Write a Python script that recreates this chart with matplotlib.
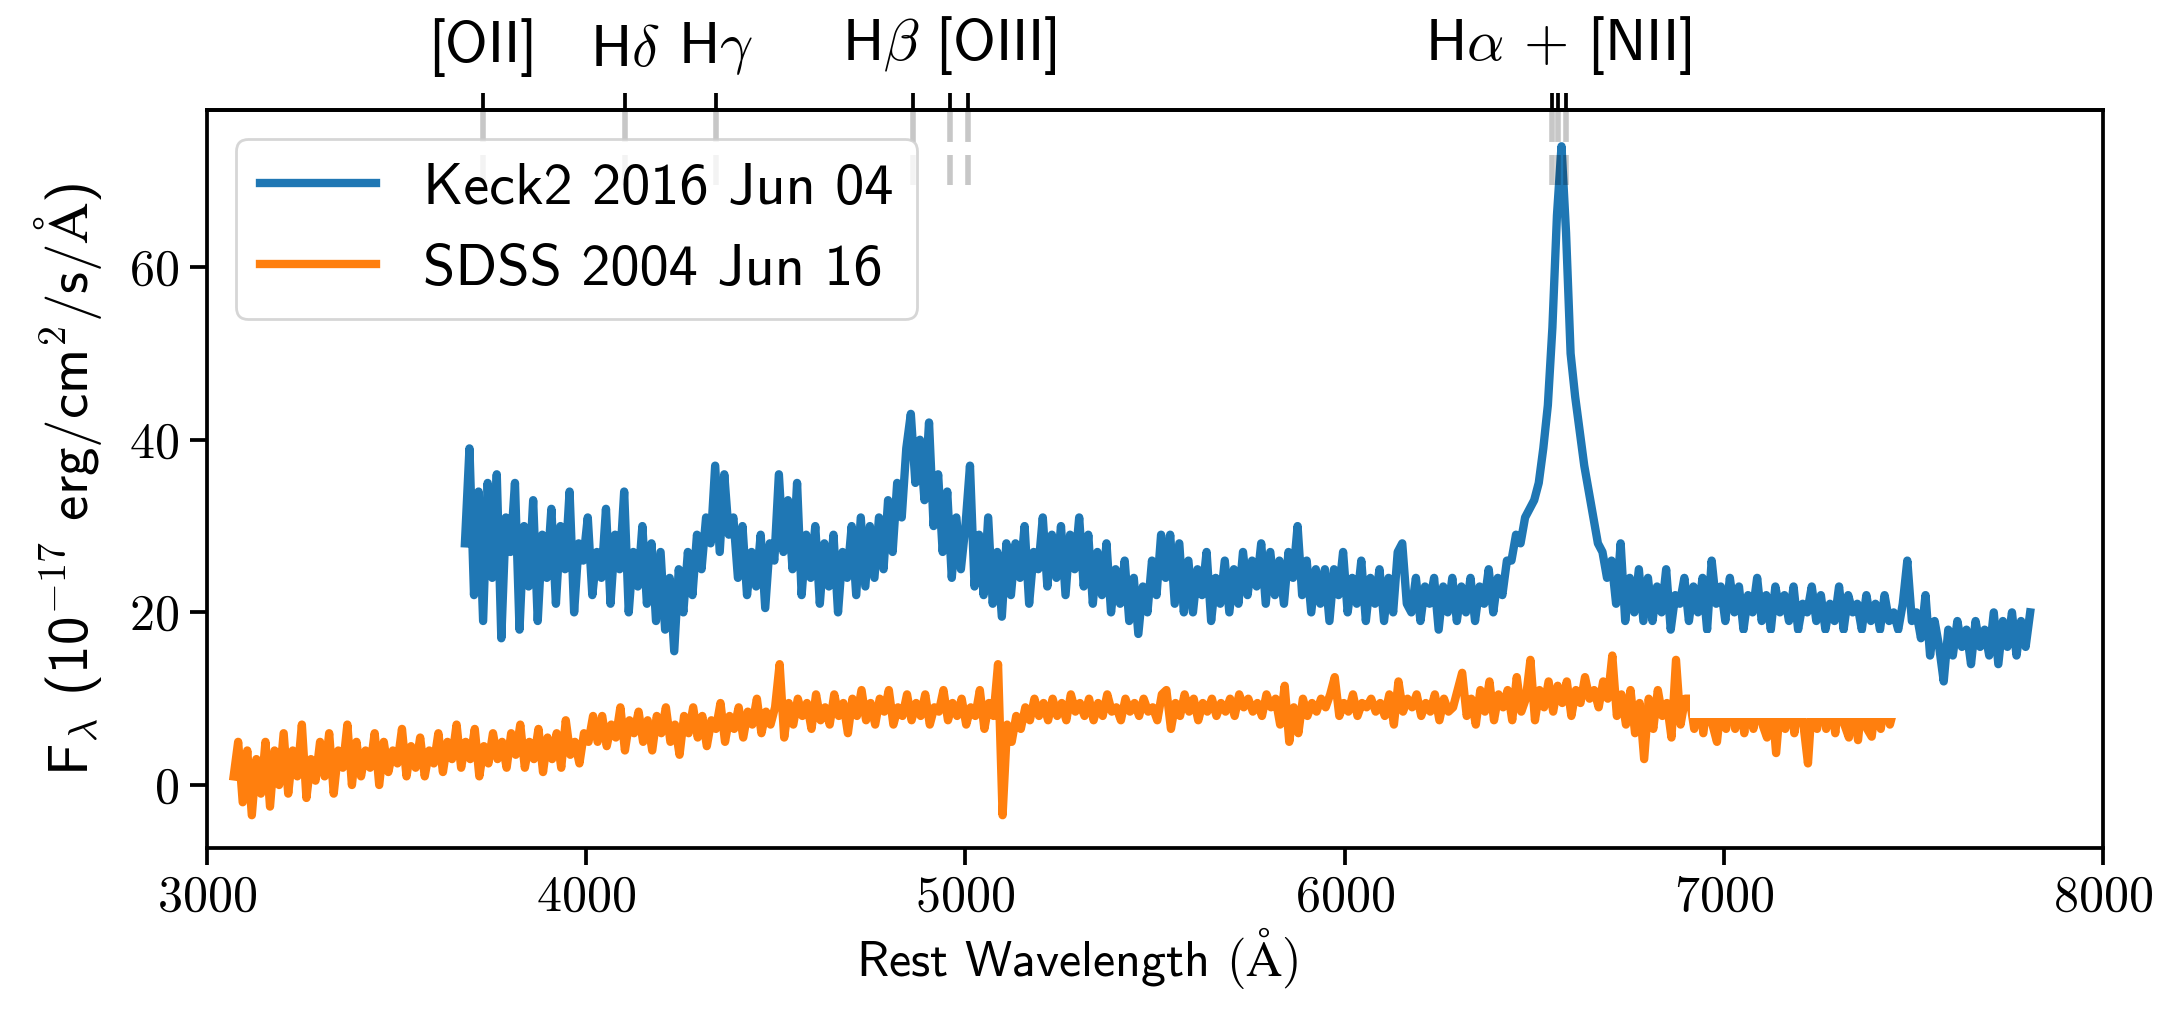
import numpy as np
import matplotlib
matplotlib.use("Agg")
import matplotlib.pyplot as plt
from matplotlib.patches import Rectangle
from matplotlib.ticker import FuncFormatter

# Keck2 spectrum, 12 A steps from 3680 A
keck_start = 3680
keck_flux = [
    28, 39, 22, 34, 19, 35, 24, 36, 17, 31,   # 3680
    27, 35, 18, 30, 23, 33, 19, 29, 24, 32,   # 3800
    21, 30, 25, 34, 20, 28, 26, 31, 22, 27,   # 3920
    24, 32, 21, 29, 25, 34, 20, 27, 23, 30,   # 4040
    21, 28, 19, 27, 18, 24, 15.5, 25, 20, 27,  # 4160
    22, 29, 25, 31, 28, 37, 27, 36, 29, 31,   # 4280
    24, 30, 22, 27, 23, 29, 20.5, 28, 26, 36,  # 4400
    27, 33, 25, 35, 22, 29, 24, 30, 21, 28,   # 4520
    23, 29, 20, 27, 24, 30, 22, 31, 23, 30,   # 4640
    24, 31, 25, 33, 27, 35, 31, 39, 43, 35,   # 4760
    40, 33, 42, 30, 36, 27, 34, 24, 31, 25,   # 4880
    30, 37, 23, 29, 22, 31, 21, 27, 19.5, 28,  # 5000
    22, 28, 24, 30, 21, 27, 25, 31, 23, 29,   # 5120
    24, 30, 22, 29, 25, 31, 23, 29, 21, 27,   # 5240
    22, 28, 20, 25, 21, 26, 19, 24, 17.5, 23,  # 5360
    20, 26, 22, 29, 24, 29, 21, 28, 20, 26,   # 5480
    20, 25, 22, 27, 19, 24, 21, 26, 20, 25,   # 5600
    21, 27, 22, 26, 23, 28, 21, 27, 22, 26,   # 5720
    21, 27, 24, 30, 22, 26, 20, 25, 21, 25,   # 5840
    19, 25, 22, 27, 20, 24, 21, 26, 19, 24,   # 5960
    21, 25, 19, 24, 20, 27, 28, 21, 20, 24,   # 6080
    19, 23, 21, 24, 18, 23, 20, 24, 19, 23,   # 6200
    20, 24, 19, 23, 21, 25, 20, 24, 22, 26,   # 6320
    26, 29, 28, 31, 32, 33, 35, 39, 44, 53,   # 6440
    66, 74, 64, 50, 45, 41, 37, 34, 31, 28,   # 6560
    27, 24, 26, 21, 28, 19, 24, 20, 25, 19,   # 6680
    24, 19, 23, 20, 25, 18, 22, 21, 24, 19,   # 6800
    23, 20, 24, 18, 26, 21, 23, 19, 24, 20,   # 6920
    23, 18, 22, 20, 24, 19, 22, 18, 23, 20,   # 7040
    22, 19, 23, 18, 21, 20, 23, 19, 22, 18,   # 7160
    21, 19, 23, 18, 22, 20, 21, 18, 22, 19,   # 7280
    21, 18, 22, 19, 20, 18, 21, 26, 19, 20,   # 7400
    17, 22, 15, 19, 16, 12, 18, 15, 19, 16,   # 7520
    18, 14, 19, 16, 18, 15, 20, 14, 19, 16,   # 7640
    20, 15, 19, 16, 20,                       # 7760
]

# SDSS spectrum, 12 A steps from 3070 A
sdss_start = 3070
sdss_flux = [
    1, 5, -2, 4, -3.5, 3, -1, 5, -2.5, 4,      # 3070
    0, 6, -1, 4, 1, 7, -1.5, 3, 0.5, 5,        # 3190
    1, 6, -1, 4, 2, 7, 0, 5, 1, 4,             # 3310
    2, 6, 0, 5, 1.5, 4, 2.5, 6.5, 1, 4.5,      # 3430
    2, 5.5, 1, 4, 2.5, 6, 1.5, 5, 3, 7,        # 3550
    2, 5, 3, 6.5, 1, 4.5, 2.5, 6, 3, 5,        # 3670
    2, 6, 3.5, 7, 2, 5, 3, 6.5, 1.5, 5.5,      # 3790
    3, 6, 2, 7.5, 3.5, 5, 2.5, 6, 5, 8,        # 3910
    5, 8, 4.5, 7, 5.5, 9, 4, 7.5, 6, 8.5,      # 4030
    5, 7.5, 4, 8, 6, 9, 5, 7, 3.5, 8,          # 4150
    6, 9, 5.5, 8, 4.5, 7.5, 6.5, 9.5, 5, 8,    # 4270
    6.5, 9, 5.5, 8.5, 7, 10, 6, 8.5, 7, 9,     # 4390
    14, 5.5, 9.5, 7, 10, 8, 9.5, 6.5, 10.5, 7.5,  # 4510
    9, 7, 10.5, 8, 9.5, 6, 10, 8, 11, 7.5,     # 4630
    9.5, 7, 10, 8.5, 11, 7, 9, 8, 10.5, 7.5,   # 4750
    9.5, 8, 10.5, 7, 9, 8.5, 11, 7.5, 9.5, 8,  # 4870
    10, 7, 9, 8, 11, 6.5, 9.5, 8, 14, -3.5,    # 4990
    7, 5, 8, 6.5, 9, 7.5, 10, 8, 9.5, 7.5,     # 5110
    10, 8, 9.5, 7.5, 10.5, 8.5, 9.5, 8, 10, 7.5,  # 5230
    9.5, 8, 10.5, 8.5, 9, 7.5, 10, 8.5, 9.5, 8,   # 5350
    10, 8.5, 9, 7.5, 10.5, 11, 6.5, 9.5, 8, 10.5,  # 5470
    8.5, 10, 7.5, 9.5, 8.5, 10, 8, 9.5, 8.5, 10,   # 5590
    8, 10.5, 9, 10, 8.5, 9.5, 8, 10.5, 9, 10,      # 5710
    7, 11.5, 5, 9, 6, 10, 8, 9.5, 8.5, 10,         # 5830
    9, 10.5, 12.5, 8, 9.5, 8.5, 10.5, 8, 9.5, 9,   # 5950
    10, 8.5, 9.5, 8, 10.5, 7, 12, 8.5, 10, 9,      # 6070
    10.5, 8, 9.5, 8.5, 10.5, 7.5, 10, 8.5, 9, 11,  # 6190
    13, 8, 10, 7, 11, 8.5, 12, 7.5, 10.5, 9,       # 6310
    11, 7.5, 12.5, 8.5, 10, 14.5, 7.5, 11, 9, 12,  # 6430
    8.5, 11.5, 9.5, 12, 8, 11, 9.5, 12.5, 10, 11,  # 6550
    9, 12, 10, 15, 8, 10.5, 7, 11, 6, 9.5,         # 6670
    3, 10, 6.5, 11, 8, 9.5, 5.5, 14.5, 7, 10,      # 6790
    10, 6.5, 11, 6, 10.5, 7, 5, 10, 6.5, 11,       # 6910
    6.5, 10, 6, 11, 6.5, 10, 7, 5.5, 10, 3.7,      # 7030
    10, 6.5, 11, 6, 10, 7, 2.5, 10.5, 6.5, 11,     # 7150
    6.5, 10, 6, 11, 7, 5.5, 10, 5.2, 10.5, 6.5,    # 7270
    5.6, 10, 6.5, 10.5, 7, 9,                      # 7390
]

step = 12
keck_wave = keck_start + step * np.arange(len(keck_flux))
sdss_wave = sdss_start + step * np.arange(len(sdss_flux))

# emission lines marked on the top axis
line_waves = [3727, 4102, 4341, 4861, 4959, 5007, 6548, 6563, 6583]
line_labels = ['[OII]', r'H$\delta$', r'H$\gamma$', '', r'H$\beta$ [OIII]',
               '', '', r'H$\alpha$ + [NII]', '']

plt.rcParams['font.family'] = ['cmss10', 'DejaVu Sans']
plt.rcParams['mathtext.fontset'] = 'cm'
plt.rcParams['font.size'] = 19
plt.rcParams['axes.linewidth'] = 1.35

fig = plt.figure(figsize=(10.83, 5.095), dpi=200)
ax = fig.add_axes([0.0956, 0.1678, 0.9709 - 0.0956, 0.892 - 0.1678])

ax.plot(keck_wave, keck_flux, color='#1f77b4', lw=3.0, label='Keck2 2016 Jun 04')
ax.plot(sdss_wave, sdss_flux, color='#ff7f0e', lw=3.0, label='SDSS 2004 Jun 16')

# blank patch present in the original image
ax.add_patch(Rectangle((6910, 7.8), 578, 9.8, facecolor='white',
                       edgecolor='none', zorder=4))

ax.vlines(line_waves, 69.5, 80, colors='k', alpha=0.22, lw=2.0,
          linestyles=(0, (5.4, 2.35)), zorder=5)

ax.set_xlim(3000, 8000)
ax.set_ylim(-7.3, 78.2)
ax.set_xticks([3000, 4000, 5000, 6000, 7000, 8000])
ax.set_yticks([0, 20, 40, 60])
ax.xaxis.set_major_formatter(FuncFormatter(lambda v, p: r'$%d$' % v))
ax.yaxis.set_major_formatter(FuncFormatter(lambda v, p: r'$%d$' % v))
ax.tick_params(axis='both', length=6, width=1.35, labelsize=18, pad=4)

ax.set_xlabel(r'Rest Wavelength $(\mathrm{\AA})$', fontsize=18)
ax.xaxis.set_label_coords(0.459, -0.104)
ax.set_ylabel(r'F$_\lambda$ (10$^{\mathsf{-17}}$ erg/cm$^{\mathsf{2}}$/s/$\mathrm{\AA}$)',
              fontsize=20.5, labelpad=9)

top = ax.secondary_xaxis('top')
top.set_xticks(line_waves)
top.set_xticklabels(line_labels)
top.tick_params(length=6, width=1.35, labelsize=21, pad=6)

ax.legend(loc='upper left', fontsize=21, framealpha=0.8)

fig.savefig('out.png', dpi=200)
